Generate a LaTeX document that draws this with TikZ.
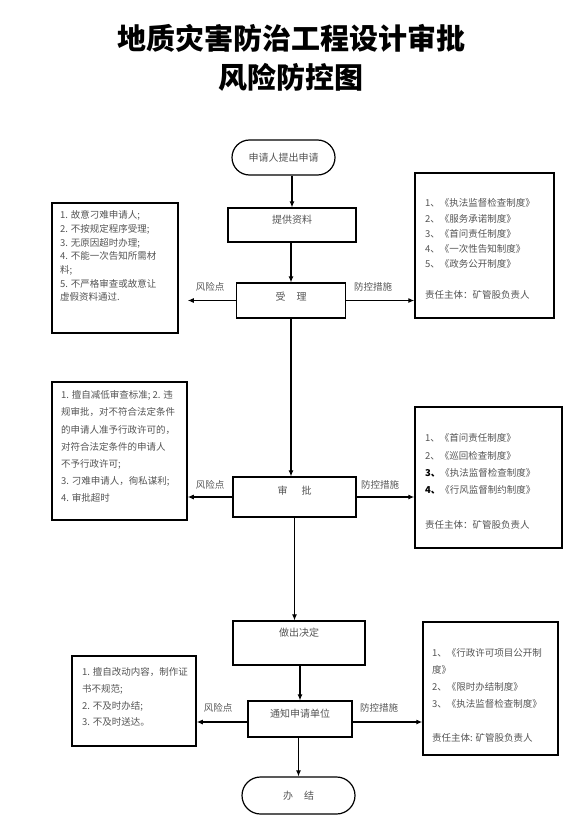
\documentclass[tikz,border=0pt]{standalone}
\usepackage{fontspec}
\setmainfont{Noto Sans CJK SC}
\usetikzlibrary{arrows.meta,shapes.misc}
\definecolor{txt}{gray}{0.33}
\begin{document}
\begin{tikzpicture}[x=1pt,y=-1pt,
  flow/.style={draw, line width=1.2pt, inner sep=0pt, text=txt, font=\fontsize{10}{12}\selectfont},
  up/.style={text height=8.8pt, text depth=#1},
  term/.style={flow, rounded rectangle},
  sidebox/.style={draw, line width=1.5pt, inner sep=0pt},
  tb/.style={anchor=north west, inner sep=0pt, align=left, text=txt, font=\fontsize{9.5}{#1}\selectfont},
  lbl/.style={inner sep=0pt, text=txt, font=\fontsize{9.5}{11}\selectfont},
  arr/.style={line width=1.1pt, -{Latex[length=6pt,width=5pt]}},
  ttl/.style={inner sep=0pt, font=\bfseries\fontsize{29}{34}\selectfont}]
\useasboundingbox (0,0) rectangle (582,829);

% title
\node[ttl] (t1) at (291,38) {地质灾害防治工程设计审批};
\node[ttl] (t2) at (291,77) {风险防控图};

% flow nodes
\node[term, minimum width=103pt, minimum height=35pt] (start) at (283.5,157.5) {申请人提出申请};
\node[flow, up=11pt, minimum width=128pt, minimum height=34pt] (s1) at (292,225) {提供资料};
\node[flow, up=8pt, minimum width=109pt, minimum height=35pt] (s2) at (291,300.5) {受\hspace{11pt}理};
\node[flow, up=13pt, minimum width=123pt, minimum height=40pt] (s3) at (294.5,497) {审\hspace{14pt}批};
\node[flow, up=21pt, minimum width=132pt, minimum height=44pt] (s4) at (299,643) {做出决定};
\node[flow, up=11pt, minimum width=104pt, minimum height=36pt] (s5) at (300,719) {通知申请单位};
\node[term, minimum width=113pt, minimum height=37pt] (end) at (298.5,795.5) {办\hspace{11pt}结};

% side boxes
\node[sidebox, minimum width=126pt, minimum height=130pt] (L1) at (115,268) {};
\node[sidebox, minimum width=135pt, minimum height=138pt] (L2) at (119.5,451) {};
\node[sidebox, minimum width=124pt, minimum height=90pt] (L3) at (134,701) {};
\node[sidebox, minimum width=139pt, minimum height=145pt] (R1) at (484.5,245.5) {};
\node[sidebox, minimum width=147pt, minimum height=141pt] (R2) at (488.5,477.5) {};
\node[sidebox, minimum width=135pt, minimum height=133pt] (R3) at (490.5,688.5) {};

% side texts
\node[tb=13.7] (L1t) at (60,210.5) {1. 故意刁难申请人;\\2. 不按规定程序受理;\\3. 无原因超时办理;\\4. 不能一次告知所需材\\料;\\5. 不严格审查或故意让\\虚假资料通过.};
\node[tb=17.2] (L2t) at (61,390.5) {1. 擅自减低审查标准; 2. 违\\规审批，对不符合法定条件\\的申请人准予行政许可的，\\对符合法定条件的申请人\\不予行政许可;\\3. 刁难申请人，徇私谋利;\\4. 审批超时};
\node[tb=16.7] (L3t) at (82,667.5) {1. 擅自改动内容，制作证\\书不规范;\\2. 不及时办结;\\3. 不及时送达。};
\node[tb=15.3] (R1t) at (425,198.5) {1、《执法监督检查制度》\\2、《服务承诺制度》\\3、《首问责任制度》\\4、《一次性告知制度》\\5、《政务公开制度》\\[15.3pt]责任主体：矿管股负责人};
\node[tb=17.4] (R2t) at (425,433.5) {1、《首问责任制度》\\2、《巡回检查制度》\\\textcolor{black}{\textbf{3、}}《执法监督检查制度》\\\textcolor{black}{\textbf{4、}}《行风监督制约制度》\\[17.4pt]责任主体：矿管股负责人};
\node[tb=17] (R3t) at (432,648.5) {1、《行政许可项目公开制\\度》\\2、《限时办结制度》\\3、《执法监督检查制度》\\[17pt]责任主体: 矿管股负责人};

% main vertical arrows
\draw[arr] (start.south -| s1.north) -- (s1.north);
\draw[arr] (s1.south -| s2.north) -- (s2.north);
\draw[arr] (s2.south) -- (s2.south |- s3.north);
\draw[arr] (s3.south) -- (s3.south |- s4.north);
\draw[arr] (s4.south -| s5.north) -- (s5.north);
\draw[arr] (s5.south -| end.north) -- (end.north);

% horizontal arrows
\coordinate (s5w) at ([yshift=-3pt]s5.west);
\coordinate (s5e) at ([yshift=-3pt]s5.east);
\draw[arr, shorten >=9pt] (s2.west) -- (L1.east |- s2.west);
\draw[arr] (s2.east) -- (R1.west |- s2.east);
\draw[arr] (s3.west) -- (L2.east |- s3.west);
\draw[arr] (s3.east) -- (R2.west |- s3.east);
\draw[arr] (s5w) -- (L3.east |- s5w);
\draw[arr] (s5e) -- (R3.west |- s5e);

% labels
\node[lbl] (rp1) at (210,287) {风险点};
\node[lbl] (fk1) at (373,287) {防控措施};
\node[lbl] (rp2) at (210,485) {风险点};
\node[lbl] (fk2) at (380,485) {防控措施};
\node[lbl] (rp3) at (218,708) {风险点};
\node[lbl] (fk3) at (379,708) {防控措施};
\end{tikzpicture}
\end{document}
